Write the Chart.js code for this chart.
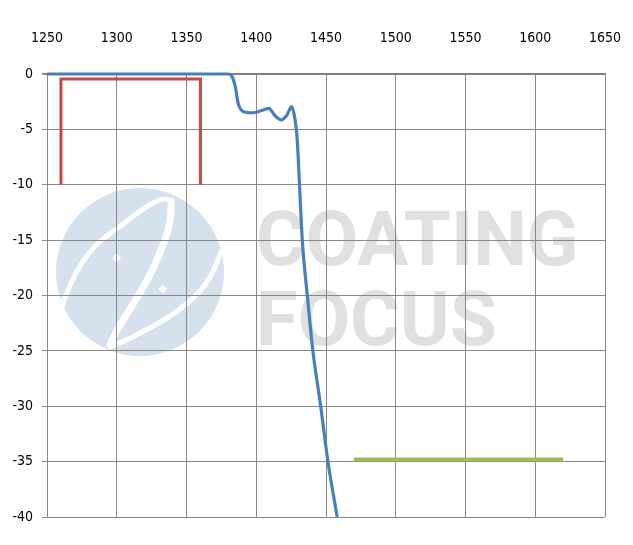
<!DOCTYPE html>
<html>
<head>
<meta charset="utf-8">
<script src="https://cdn.jsdelivr.net/npm/chart.js@4.4.1/dist/chart.umd.min.js"></script>
<style>
  html, body { margin: 0; padding: 0; background: #ffffff; }
  #wrap { width: 633px; height: 545px; position: relative; }
</style>
</head>
<body>
<div id="wrap"><canvas id="c" width="633" height="545"></canvas></div>
<script>
// ---- data ----
const blueX = [1250, 1380, 1382, 1385, 1387, 1391, 1398, 1405, 1409, 1413, 1418, 1422, 1425.4, 1427, 1428.5, 1429.4, 1431, 1433, 1436.6, 1440.6, 1446.2, 1451.4, 1458];
const blueY = [0, 0, -0.1, -1.15, -2.65, -3.4, -3.5, -3.25, -3.1, -3.7, -4.15, -3.7, -2.95, -3.55, -4.75, -6, -10, -15, -20, -25, -30, -35, -40];
const redX = [1260, 1260, 1360, 1360];
const redY = [-10, -0.45, -0.45, -10];
const greenX = [1470, 1620];
const greenY = [-34.8, -34.8];
const xTickMin = 1250, xTickMax = 1650, xStep = 50;
const yTickMin = -40, yTickMax = 0, yStep = 5;
const watermarkLines = ["COATING", "FOCUS"];

const pts = (xs, ys) => xs.map((x, i) => ({ x: x, y: ys[i] }));

const FONT = "'DejaVu Sans Condensed', 'DejaVu Sans', sans-serif";

const watermark = {
  id: 'watermark',
  beforeDraw(chart) {
    const ctx = chart.ctx;
    ctx.save();
    // logo
    ctx.fillStyle = '#d6e1ee';
    ctx.beginPath();
    ctx.arc(140, 272, 84, 0, Math.PI * 2);
    ctx.fill();
    ctx.save();
    ctx.beginPath();
    ctx.arc(140, 272, 84, 0, Math.PI * 2);
    ctx.clip();
    ctx.strokeStyle = '#ffffff';
    ctx.lineCap = 'round';
    ctx.lineJoin = 'round';
    const smooth = (p, w) => {
      ctx.lineWidth = w;
      ctx.beginPath();
      ctx.moveTo(p[0][0], p[0][1]);
      for (let i = 1; i < p.length - 1; i++) {
        const mx = (p[i][0] + p[i + 1][0]) / 2, my = (p[i][1] + p[i + 1][1]) / 2;
        ctx.quadraticCurveTo(p[i][0], p[i][1], mx, my);
      }
      ctx.lineTo(p[p.length - 1][0], p[p.length - 1][1]);
      ctx.stroke();
    };
    smooth([[58, 322], [62, 305], [70, 285], [81.7, 262], [98, 242], [122, 225], [145, 207], [163, 198], [171, 201]], 5);
    smooth([[171, 201], [171.5, 212], [168, 232], [158, 258], [147, 281], [132, 306], [118, 328], [110, 345]], 7);
    smooth([[110, 347], [125, 341], [140, 333], [165, 320], [190, 302], [210, 280], [224, 245]], 5);
    ctx.restore();
    ctx.fillStyle = '#ffffff';
    const diamond = (cx, cy, s) => {
      ctx.beginPath();
      ctx.moveTo(cx, cy - s); ctx.lineTo(cx + s, cy); ctx.lineTo(cx, cy + s); ctx.lineTo(cx - s, cy);
      ctx.closePath(); ctx.fill();
    };
    diamond(116.7, 258, 4.5);
    diamond(162.7, 289, 4.5);
    // text
    ctx.fillStyle = '#e0e0e0';
    ctx.font = "bold 76px Roboto, 'DejaVu Sans', sans-serif";
    ctx.textBaseline = 'alphabetic';
    ctx.textAlign = 'left';
    ctx.fillText(watermarkLines[0], 256, 265);
    ctx.fillText(watermarkLines[1], 256, 345);
    ctx.restore();
  }
};

new Chart(document.getElementById('c'), {
  type: 'scatter',
  data: {
    datasets: [
      { data: pts(blueX, blueY), showLine: true, borderColor: '#4a7ebb', borderWidth: 3.2, pointRadius: 0, cubicInterpolationMode: 'monotone', clip: false },
      { data: pts(redX, redY), showLine: true, borderColor: '#be4b48', borderWidth: 3, pointRadius: 0, tension: 0, clip: false },
      { data: pts(greenX, greenY), showLine: true, borderColor: '#9bbb59', borderWidth: 4, pointRadius: 0, tension: 0, clip: false, borderCapStyle: 'butt' }
    ]
  },
  options: {
    responsive: false,
    animation: false,
    devicePixelRatio: 1,
    layout: { padding: { left: 0, top: 0, right: 28, bottom: 28 } },
    plugins: { legend: { display: false }, tooltip: { enabled: false } },
    scales: {
      x: {
        type: 'linear', position: 'top', min: xTickMin, max: xTickMax,
        afterFit(scale) { scale.height = 74; scale.paddingLeft = 0; scale.paddingRight = 0; },
        ticks: { stepSize: xStep, color: '#000', padding: 27, font: { family: FONT, size: 14 }, maxRotation: 0,
                 callback: (v) => String(v) },
        grid: { color: '#888888', lineWidth: 1, drawTicks: false },
        border: { color: '#808080', width: 2 }
      },
      y: {
        type: 'linear', min: yTickMin, max: yTickMax,
        afterFit(scale) { scale.width = 47; scale.paddingTop = 0; scale.paddingBottom = 0; },
        ticks: { stepSize: yStep, color: '#000', padding: 9, font: { family: FONT, size: 14 },
                 callback: (v) => String(v) },
        grid: { color: '#888888', lineWidth: (c) => (c.tick && c.tick.value === 0 ? 2 : 1), tickLength: 5 },
        border: { color: '#888888', width: 1 }
      }
    }
  },
  plugins: [watermark]
});
</script>
</body>
</html>
